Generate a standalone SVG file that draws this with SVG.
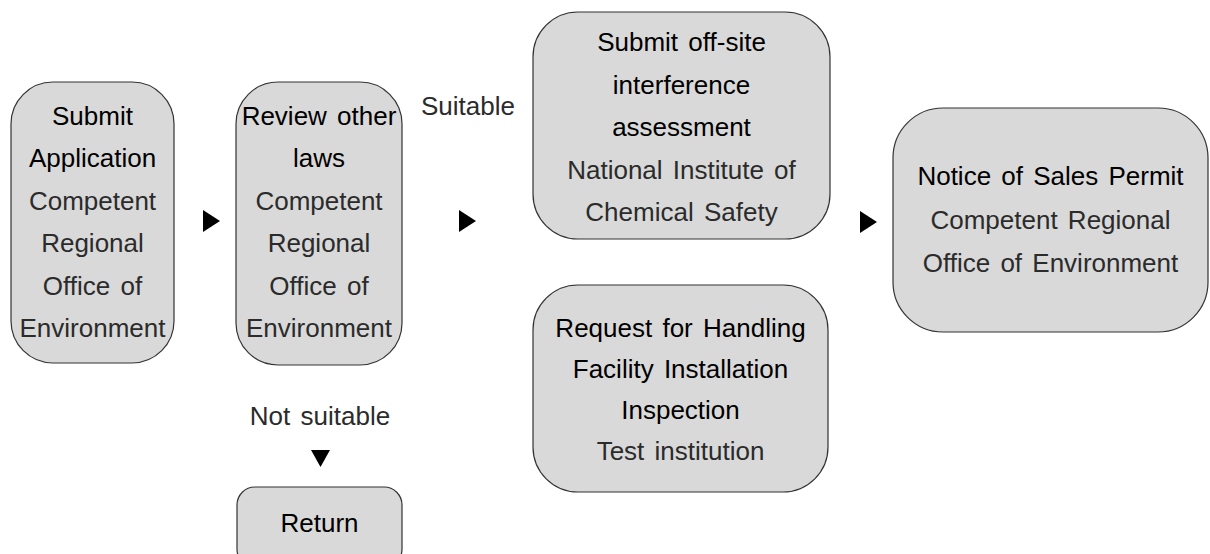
<svg xmlns="http://www.w3.org/2000/svg" width="1210" height="554" viewBox="0 0 1210 554">
<style>
.box{fill:#d9d9d9;stroke:#333;stroke-width:1.2}
text{font-family:"Liberation Sans",Arial,sans-serif;font-size:26px;text-anchor:middle;word-spacing:3px}
.t{fill:#000}
.s{fill:#2b2b2b}
.arr{fill:#000}
</style>
<rect width="1210" height="554" fill="#fff"/>
<g id="submit-application">
<rect class="box" x="11" y="82" width="163" height="281" rx="42" ry="42"/>
<text class="t" x="92.5" y="124.5">Submit</text>
<text class="t" x="92.5" y="167">Application</text>
<text class="s" x="92.5" y="209.5">Competent</text>
<text class="s" x="92.5" y="252">Regional</text>
<text class="s" x="92.5" y="294.5">Office of</text>
<text class="s" x="92.5" y="337">Environment</text>
</g>
<g id="review-other-laws">
<rect class="box" x="236" y="82" width="166" height="283" rx="42" ry="42"/>
<text class="t" x="319" y="124.5">Review other</text>
<text class="t" x="319" y="167">laws</text>
<text class="s" x="319" y="209.5">Competent</text>
<text class="s" x="319" y="252">Regional</text>
<text class="s" x="319" y="294.5">Office of</text>
<text class="s" x="319" y="337">Environment</text>
</g>
<g id="offsite-assessment">
<rect class="box" x="533" y="12" width="297" height="227" rx="45" ry="45"/>
<text class="t" x="681.5" y="51">Submit off-site</text>
<text class="t" x="681.5" y="93.5">interference</text>
<text class="t" x="681.5" y="136">assessment</text>
<text class="s" x="681.5" y="178.5">National Institute of</text>
<text class="s" x="681.5" y="221">Chemical Safety</text>
</g>
<g id="installation-inspection">
<rect class="box" x="533" y="285" width="295" height="207" rx="45" ry="45"/>
<text class="t" x="680.5" y="337">Request for Handling</text>
<text class="t" x="680.5" y="378">Facility Installation</text>
<text class="t" x="680.5" y="419">Inspection</text>
<text class="s" x="680.5" y="460">Test institution</text>
</g>
<g id="sales-permit">
<rect class="box" x="893" y="108" width="315" height="224" rx="50" ry="50"/>
<text class="t" x="1050.5" y="185">Notice of Sales Permit</text>
<text class="s" x="1050.5" y="228.5">Competent Regional</text>
<text class="s" x="1050.5" y="272">Office of Environment</text>
</g>
<g id="return">
<rect class="box" x="237" y="487" width="165" height="80" rx="18" ry="18"/>
<text class="t" x="319.5" y="532">Return</text>
</g>
<g id="connectors">
<polygon class="arr" points="203,210 220,221 203,232"/>
<polygon class="arr" points="459,210 476,221 459,232"/>
<polygon class="arr" points="860,211 877,222 860,233"/>
<polygon class="arr" points="311,450 330,450 320.5,467"/>
<text class="s" x="468" y="115">Suitable</text>
<text class="s" x="320" y="425">Not suitable</text>
</g>
</svg>
